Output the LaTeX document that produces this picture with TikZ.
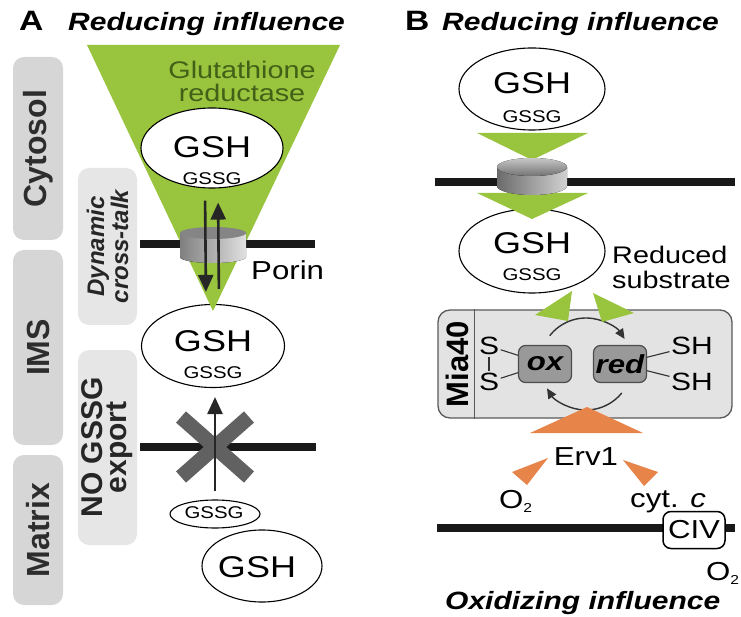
\documentclass[tikz,border=0pt]{standalone}
\usepackage{fontspec}
\setmainfont[FakeStretch=1.2]{Liberation Sans}
\newfontfamily\rotfont{Liberation Sans}
\usetikzlibrary{shapes.geometric,arrows.meta}

\definecolor{gsrgreen}{RGB}{153,196,61}
\definecolor{gsrtext}{RGB}{66,96,24}
\definecolor{ervorange}{RGB}{230,132,74}
\definecolor{compgray}{RGB}{214,214,214}
\definecolor{notegray}{RGB}{230,230,230}
\definecolor{labelgray}{RGB}{45,45,45}
\newcommand{\fsz}[1]{\fontsize{#1}{#1}\selectfont}
\newcommand{\subtwo}{\raisebox{-4pt}{\fsz{13}2}}

\begin{document}
\begin{tikzpicture}[x=1pt,y=-1pt,
  redox/.style={ellipse,draw,fill=white,line width=1.1pt,inner sep=0pt},
  big/.style={inner sep=0pt,font=\fsz{30}},
  small/.style={inner sep=0pt,font=\fsz{17}},
  head/.style={inner sep=0pt,anchor=base west,font=\bfseries\itshape\fsz{25}},
  panel/.style={inner sep=0pt,anchor=base west,font=\bfseries\fsz{28}},
  lbl/.style={inner sep=0pt,font=\fsz{26}},
  comp/.style={fill=compgray,rounded corners=11pt,rotate=90,minimum height=50pt,
    text=labelgray,font=\rotfont\bfseries\fsz{32}},
  note/.style={fill=notegray,rounded corners=11pt,rotate=90,minimum height=59pt,
    align=center,text=black!85},
  memb/.style={line width=8pt,black!90},
  cross/.style={line width=15pt,black!62},
  flux/.style={line width=2.6pt,black!85,-{Triangle[length=17pt,width=15pt]}},
  turn/.style={line width=1.4pt,black!80,-{Triangle[length=10pt,width=9pt]}},
  thiol/.style={inner sep=1.5pt,font=\fsz{25}},
  bond/.style={line width=1.1pt,black!80},
  state/.style={draw=black!70,fill=black!40,line width=1.2pt,rounded corners=7pt,
    minimum width=53pt,minimum height=37pt,inner sep=0pt,font=\bfseries\itshape\fsz{26}},
  civ/.style={draw,fill=white,line width=1.5pt,rounded corners=8pt,
    minimum width=62pt,minimum height=37pt,inner sep=0pt,font=\fsz{26}}]
\useasboundingbox (0,0) rectangle (741,617);

% panel A
\node[panel] (pa) at (19,31) {A};
\node[head] (redA) at (68,31) {Reducing influence};
\node[comp,minimum width=183pt] (cyto) at (38,148.5) {Cytosol};
\node[comp,minimum width=195pt] (ims) at (38,347.5) {IMS};
\node[comp,minimum width=150pt] (matrix) at (38,530) {Matrix};
\node[note,minimum width=157pt,font=\rotfont\bfseries\itshape\fontsize{24}{24}\selectfont]
  (talk) at (107.5,246.5) {Dynamic\\cross-talk};
\node[note,minimum width=195pt,font=\rotfont\bfseries\fontsize{30}{24}\selectfont]
  (noexp) at (107.5,447.5) {NO GSSG\\export};

\node[redox,minimum width=143pt,minimum height=83pt] (imsA) at (213,346) {};
\fill[gsrgreen] (87,45) -- (340,45) -- (213,311) -- cycle;
\node[inner sep=0pt,anchor=north,align=center,text=gsrtext,font=\fontsize{24}{23}\selectfont]
  (gsr) at (242,61) {Glutathione\\reductase};
\draw[memb] (140,244) -- (315,244);
\fill[left color=black!50,right color=black!12] (180,233) -- (180,257)
  arc[start angle=180,end angle=0,x radius=33,y radius=6] -- (246,233) -- cycle;
\fill[black!48] (213,233) ellipse [x radius=33,y radius=6];
\node[lbl,anchor=base west] (porin) at (251,280) {Porin};

\node[redox,minimum width=142pt,minimum height=80pt] (cytA) at (212,148) {};
\node[big] (cytAgsh) at (212,147) {GSH};
\node[small] (cytAgssg) at (212,179) {GSSG};
\node[big] (imsAgsh) at (213,341) {GSH};
\node[small] (imsAgssg) at (213,373) {GSSG};
\draw[flux,shorten <=12pt,shorten >=12pt] ([xshift=-7pt]cytA.south) -- ([xshift=-7pt]imsA.north);
\draw[flux,shorten <=15pt,shorten >=14pt] ([xshift=6pt]imsA.north) -- ([xshift=6pt]cytA.south);

\draw[memb] (140,447) -- (316,447);
\draw[cross] (181,417) -- (249,477) (181,477) -- (249,417);
\node[redox,minimum width=90pt,minimum height=28pt] (matA) at (215,514) {};
\node[small] (matAgssg) at (214,513) {GSSG};
\node[redox,minimum width=120pt,minimum height=72pt] (matB) at (262,566) {};
\node[big] (matBgsh) at (257,567) {GSH};
\draw[flux,shorten <=8pt,shorten >=9pt] (matA.north) -- (matA.north |- imsA.south);

% panel B
\node[panel] (pb) at (405,31) {B};
\node[head] (redB) at (442,31) {Reducing influence};
\node[redox,minimum width=146pt,minimum height=82pt] (cytB) at (532,89) {};
\node[big] (cytBgsh) at (532,83) {GSH};
\node[small] (cytBgssg) at (532,117) {GSSG};
\node[redox,minimum width=146pt,minimum height=84pt] (imsB) at (532,251) {};
\node[big] (imsBgsh) at (532,243) {GSH};
\node[small] (imsBgssg) at (532,275) {GSSG};
\node[inner sep=0pt,anchor=north west,align=left,font=\fontsize{24}{25}\selectfont]
  (subst) at (612,246) {Reduced\\substrate};
\fill[gsrgreen] (477,133) -- (588,133) -- (532,160) -- cycle;
\fill[gsrgreen] (477,193) -- (588,193) -- (532,219) -- cycle;
\draw[memb] (435,182) -- (735,182);
\fill[left color=black!58,right color=black!18] (497,167) -- (497,186)
  arc[start angle=180,end angle=0,x radius=35,y radius=9] -- (567,167) -- cycle;
\fill[top color=black!22,bottom color=black!55] (532,167) ellipse [x radius=35,y radius=9];

\node[draw=black!65,fill=black!11,line width=1.3pt,rounded corners=12pt,
  minimum width=294pt,minimum height=108pt] (mia) at (585,364) {};
\draw[black!65,line width=1.3pt] ([xshift=37pt]mia.north west) -- ([xshift=37pt]mia.south west);
\node[rotate=90,font=\rotfont\bfseries\fsz{31}] (mialab) at (457,364) {Mia40};
\node[thiol] (s1) at (489,346) {S};
\node[thiol] (s2) at (489,382) {S};
\node[thiol] (sh1) at (692,346) {SH};
\node[thiol] (sh2) at (692,382) {SH};
\node[state] (ox) at (545,364) {ox};
\node[state] (red) at (620,364) {red};
\draw[bond] (s1) -- (s2);
\draw[bond] (s1) -- (ox);
\draw[bond] (s2) -- (ox);
\draw[bond] (red) -- (sh1);
\draw[bond] (red) -- (sh2);
\draw[turn] (586,364) ++(218:46) arc[start angle=218,end angle=327,radius=46];
\draw[turn] (586,364) ++(39:46) arc[start angle=39,end angle=148,radius=46];
\fill[gsrgreen] (572,291) -- (535,315) -- (568,321) -- cycle;
\fill[gsrgreen] (593,293) -- (634,313) -- (602,322) -- cycle;

\fill[ervorange] (587,407) -- (643,433) -- (530,433) -- cycle;
\node[lbl] (erv) at (586,457) {Erv1};
\fill[ervorange] (548,458) -- (527,485) -- (512,472) -- cycle;
\fill[ervorange] (623,460) -- (658,472) -- (644,486) -- cycle;
\node[lbl,anchor=base west] (o2a) at (499,508) {O\subtwo};
\node[lbl,anchor=base west] (cytc) at (630,507) {cyt. \textit{c}};
\draw[memb] (437,528) -- (735,528);
\node[civ] (civ) at (694,530) {CIV};
\node[lbl,anchor=base west] (o2b) at (706,580) {O\subtwo};
\node[head] (oxB) at (445,609) {Oxidizing influence};
\end{tikzpicture}
\end{document}
